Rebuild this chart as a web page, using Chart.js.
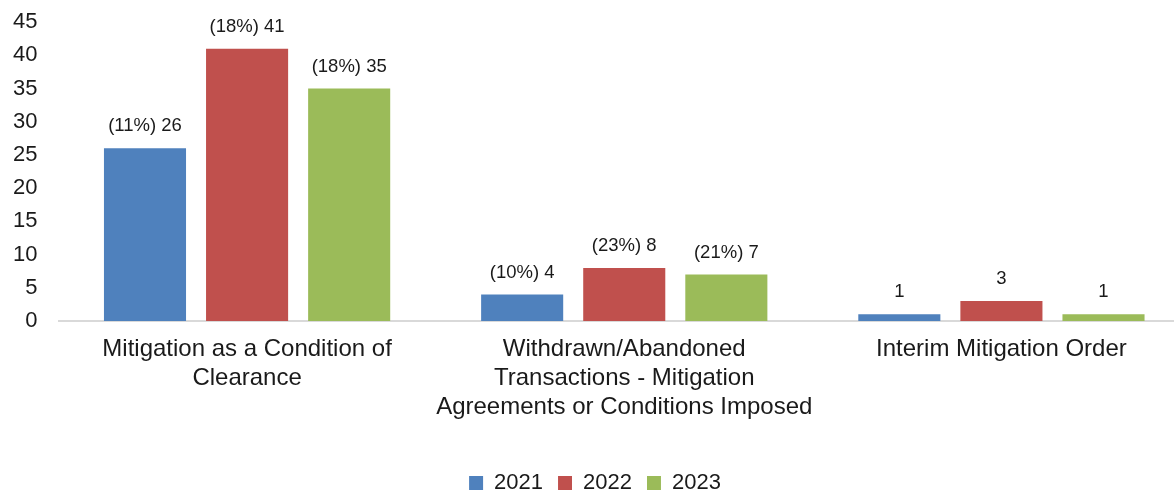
<!DOCTYPE html>
<html>
<head>
<meta charset="utf-8">
<script src="https://cdn.jsdelivr.net/npm/chart.js@4.4.1/dist/chart.umd.min.js"></script>
<style>
  html, body { margin: 0; padding: 0; background: #fff; overflow: hidden; }
  #wrap { width: 1174px; height: 490px; overflow: hidden; }
  #box { width: 1190px; height: 502px; margin-top: -12px; }
</style>
</head>
<body>
<div id="wrap"><div id="box"><canvas id="chart"></canvas></div></div>
<script>
const categories = [
    ['Mitigation as a Condition of', 'Clearance'],
    ['Withdrawn/Abandoned', 'Transactions - Mitigation', 'Agreements or Conditions Imposed'],
    ['Interim Mitigation Order']
];
const years = ['2021', '2022', '2023'];
const values2021 = [26, 4, 1];
const values2022 = [41, 8, 3];
const values2023 = [35, 7, 1];
// share shown in brackets before the count (null = no share shown)
const shares2021 = ['11%', '10%', null];
const shares2022 = ['18%', '23%', null];
const shares2023 = ['18%', '21%', null];
const colors = ['#4f81bd', '#c0504d', '#9bbb59'];

const FONT = 'Arial, "Liberation Sans", sans-serif';

// Draw "(xx%) n" above each bar
const barLabels = {
    id: 'barLabels',
    afterDatasetsDraw(chart) {
        const ctx = chart.ctx;
        ctx.save();
        ctx.font = '18.5px ' + FONT;
        ctx.fillStyle = '#1a1a1a';
        ctx.textAlign = 'center';
        ctx.textBaseline = 'middle';
        chart.data.datasets.forEach((ds, i) => {
            chart.getDatasetMeta(i).data.forEach((bar, j) => {
                const share = ds.shares[j];
                const text = share ? `(${share}) ${ds.data[j]}` : `${ds.data[j]}`;
                ctx.fillText(text, bar.x, bar.y - 22);
            });
        });
        ctx.restore();
    }
};

const ctx = document.getElementById('chart').getContext('2d');
new Chart(ctx, {
    type: 'bar',
    data: {
        labels: categories,
        datasets: [
            { label: years[0], data: values2021, shares: shares2021, backgroundColor: colors[0] },
            { label: years[1], data: values2022, shares: shares2022, backgroundColor: colors[1] },
            { label: years[2], data: values2023, shares: shares2023, backgroundColor: colors[2] }
        ]
    },
    options: {
        responsive: true,
        maintainAspectRatio: false,
        animation: false,
        categoryPercentage: 0.812,
        barPercentage: 0.804,
        layout: { padding: { top: 0, right: 0, bottom: -14, left: 0 } },
        scales: {
            x: {
                grid: { display: false, drawTicks: false },
                border: { display: true, color: '#d9d9d9', width: 2 },
                ticks: {
                    color: '#1a1a1a',
                    font: { family: FONT, size: 24, lineHeight: 1.2 },
                    padding: 14,
                    maxRotation: 0,
                    autoSkip: false
                },
                afterFit(scale) { scale.height = 136; }
            },
            y: {
                min: 0,
                max: 45,
                grid: { display: false, drawTicks: false },
                border: { display: false },
                ticks: {
                    stepSize: 5,
                    color: '#1a1a1a',
                    font: { family: FONT, size: 22 },
                    padding: 21
                },
                afterFit(scale) { scale.width = 58.5; }
            }
        },
        plugins: {
            legend: {
                position: 'bottom',
                labels: {
                    color: '#1a1a1a',
                    font: { family: FONT, size: 22 },
                    boxWidth: 14,
                    boxHeight: 14,
                    padding: 15
                }
            },
            tooltip: { enabled: false }
        }
    },
    plugins: [barLabels]
});
</script>
</body>
</html>
